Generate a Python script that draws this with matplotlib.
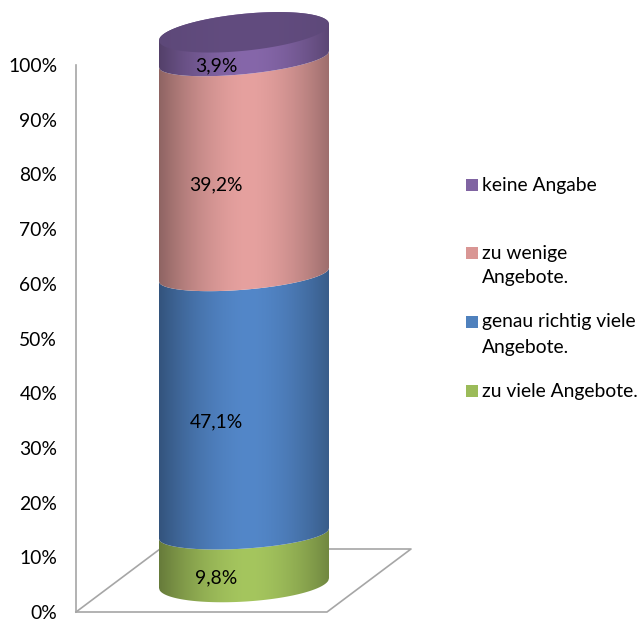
import numpy as np
import matplotlib
matplotlib.use("Agg")
import matplotlib.pyplot as plt
from matplotlib.patches import Polygon, Rectangle

series = ["zu viele Angebote.", "genau richtig viele\nAngebote.", "zu wenige\nAngebote.", "keine Angabe"]
values = [9.8, 47.1, 39.2, 3.9]
yticks = [0, 10, 20, 30, 40, 50, 60, 70, 80, 90, 100]
colors = ["#A5C65E", "#5387C9", "#E6A19F", "#8667AA"]
legend_colors = ["#9BBB59", "#4F81BD", "#D99694", "#8064A2"]
legend_y_px = [391, 322, 253, 185]

W, H = 643, 621
PXY = 5.47
PXX = 170.0
plt.rcParams["font.family"] = ["Lato", "DejaVu Sans"]
fs = 13.9

fig = plt.figure(figsize=(W / 100, H / 100), dpi=100)
ax = fig.add_axes([0, 0, 1, 1])
ax.set_facecolor("white")
xmin, xmax = -244 / PXX, (W - 244) / PXX
ymin, ymax = -(H - 612) / PXY, 612 / PXY

grey = "#A6A6A6"
for s in ["top", "right", "bottom"]:
    ax.spines[s].set_visible(False)
xaxis_pos = (76 - 244) / PXX
ax.spines["left"].set_position(("data", xaxis_pos))
ax.spines["left"].set_bounds(0, 100)
ax.spines["left"].set_color(grey)
ax.spines["left"].set_linewidth(1.2)
ax.set_yticks(yticks)
ax.set_yticklabels([f"{t}%" for t in yticks], fontsize=fs, color="black")
ax.tick_params(axis="y", length=0, pad=13.5)
ax.set_xticks([])

# floor of the 3D plot
fr = (327 - 244) / PXX
br = (411 - 244) / PXX
bl = (160 - 244) / PXX
depth = 63 / PXY
ax.plot([xaxis_pos, fr, br, fr], [0, 0, depth, depth], color=grey, lw=1.2, zorder=1)
ax.plot([xaxis_pos, bl], [0, depth], color=grey, lw=1.2, zorder=1)

# cylinder
us = np.linspace(-1, 1, 241)
xs = us * 0.5


def level(v):
    return 4.48 + 1.005 * v


def tilt(v):
    return 0.9 + 0.006 * v


def arc(yc, v, b, sign=-1):
    return yc + tilt(v) * us + sign * b * np.sqrt(1 - us ** 2)


def shade(u, lo=0.62):
    t = np.abs(u - 0.05) / 1.05
    return lo + (1 - lo) * (1 - t ** 1.7)


def gradient(col, lo=0.62):
    rgb = np.array(matplotlib.colors.to_rgb(col))
    return np.clip(shade(us, lo)[None, :, None] * rgb[None, None, :], 0, 1)


def paint(poly_x, poly_y, grad, z):
    patch = Polygon(np.column_stack([poly_x, poly_y]), closed=True, fc="none", ec="none", transform=ax.transData)
    ax.add_patch(patch)
    im = ax.imshow(grad, extent=[-0.5, 0.5, ymin, ymax], aspect="auto", interpolation="bilinear", zorder=z)
    im.set_clip_path(patch)


cum = np.concatenate([[0], np.cumsum(values)])
b_inner = 15 / PXY
b_cap = 18.5 / PXY
for i, v in enumerate(values):
    lo_v, hi_v = cum[i], cum[i + 1]
    y0 = level(lo_v) + (0.8 if i == 0 else 0)
    b0 = b_cap if i == 0 else b_inner
    y1 = level(hi_v)
    lower = arc(y0, lo_v, b0)
    upper = arc(y1, hi_v, b_inner)
    if i == len(values) - 1:
        y1 = level(100) + 1.0
        upper = arc(y1, 100, b_cap, sign=1)
    paint(np.r_[xs, xs[::-1]], np.r_[lower, upper[::-1]], gradient(colors[i]), 2 + i)
    ax.annotate(f"{v:.1f}%".replace(".", ","), (-28 / PXX, level((lo_v + hi_v) / 2)),
                xytext=(0, -17.5 * 0.72), textcoords="offset points",
                ha="center", va="center", fontsize=fs, color="black", zorder=10)

# lid
yc = level(100) + 1.0
lid_low = arc(yc, 100, b_cap, sign=-1)
lid_up = arc(yc, 100, b_cap, sign=1)
paint(np.r_[xs, xs[::-1]], np.r_[lid_low, lid_up[::-1]], gradient("#624C7F", lo=0.95), 8)

# legend
for name, col, yp in zip(series, legend_colors, legend_y_px):
    ax.add_patch(Rectangle((466 / W, 1 - (yp + 6) / H), 12 / W, 12 / H, transform=ax.transAxes,
                           fc=col, ec="none", zorder=5))
    first_center = 1 - yp / H
    for j, line in enumerate(name.split("\n")):
        ax.text(482 / W, first_center - j * 25 / H, line, transform=ax.transAxes,
                ha="left", va="center", fontsize=fs, color="black")

ax.set_xlim(xmin, xmax)
ax.set_ylim(ymin, ymax)
fig.savefig("out.png", dpi=100, facecolor="white")
